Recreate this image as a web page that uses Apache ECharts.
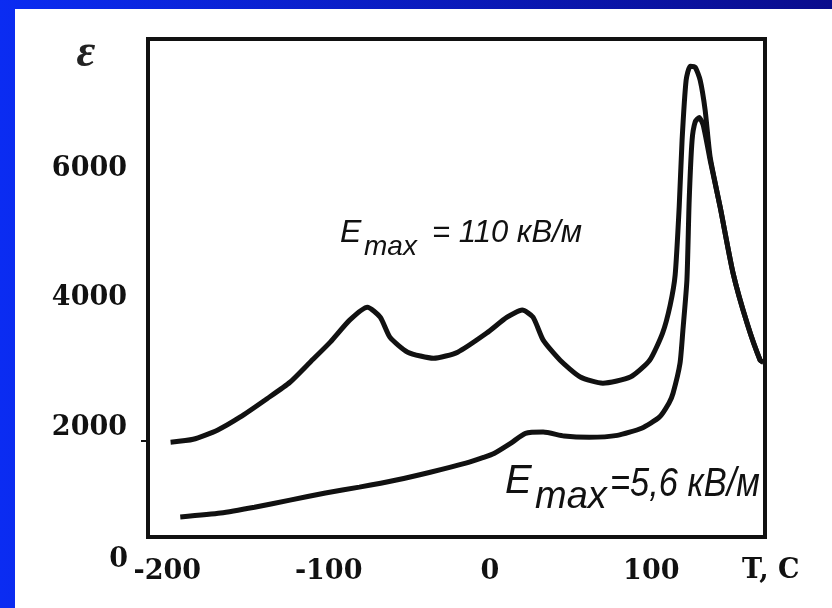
<!DOCTYPE html>
<html>
<head>
<meta charset="utf-8">
<script src="https://cdn.jsdelivr.net/npm/echarts@6/dist/echarts.min.js"></script>
<style>
  html, body { margin: 0; padding: 0; }
  #echar { width: 832px; height: 608px; }
</style>
</head>
<body>
<div id="echar"></div>
<script>
// температура, C и проницаемость для E = 110 кВ/м
var tempHigh = [-198, -184, -169, -155, -138, -124, -111.5, -99, -87, -76, -68, -62, -51, -35, -20, -2, 10.6, 20, 26.7, 33, 43.5, 56, 70, 87, 99, 107, 111.7, 114.8, 117.3, 119.1, 121.6, 124.1, 127.2, 130.3, 133.4, 136.5, 142.7, 150.7, 159.4, 167.5, 169.4];
var epsHigh = [1985, 2030, 2170, 2370, 2660, 2910, 3220, 3530, 3870, 4070, 3915, 3605, 3375, 3280, 3375, 3670, 3915, 4025, 3915, 3560, 3250, 2990, 2895, 2990, 3250, 3670, 4100, 4565, 5615, 6650, 7575, 7790, 7775, 7575, 7110, 6385, 5615, 4595, 3820, 3250, 3220];

// E = 5,6 кВ/м
var tempLow = [-192, -167, -146, -124, -102, -81, -58, -37, -15, -4, 2.5, 13, 22, 33, 46, 61.5, 79, 94, 105, 111, 113.5, 117.8, 119.6, 122.1, 123.5, 125.3, 127.2, 129.7, 132.2, 136.5, 142.7, 150.7, 159.4, 167.5, 169.4];
var epsLow = [830, 890, 980, 1090, 1200, 1290, 1400, 1520, 1660, 1750, 1810, 1970, 2120, 2140, 2080, 2060, 2090, 2200, 2370, 2590, 2740, 3200, 3710, 4490, 5720, 6650, 6930, 7000, 6880, 6340, 5615, 4595, 3820, 3250, 3220];

var xTicks = [-200, -100, 0, 100];
var yTicks = [2000, 4000, 6000];

function pairs(xs, ys) {
    var out = [];
    for (var i = 0; i < xs.length; i++) {
        out.push([xs[i], ys[i]]);
    }
    return out;
}

var myChart = echarts.init(document.getElementById("echar"));

var labelFont = {
    fontFamily: '"DejaVu Serif", serif',
    fontWeight: 'bold',
    fontSize: 27,
    color: '#111',
    formatter: function (v) { return String(v); }
};

var lineStyle = { color: '#111', width: 5 };

var option = {
    animation: false,
    backgroundColor: {
        type: 'linear', x: 0, y: 0, x2: 1, y2: 0,
        colorStops: [{ offset: 0, color: '#0b2cf2' }, { offset: 1, color: '#0a0c8c' }]
    },
    grid: {
        left: 148, right: 67, top: 39, bottom: 71,
        show: true,
        backgroundColor: '#fff',
        borderColor: '#111',
        borderWidth: 4
    },
    xAxis: {
        type: 'value',
        min: -212,
        max: 170.5,
        axisLine: { show: false, onZero: false },
        axisTick: { show: false },
        splitLine: { show: false },
        axisLabel: Object.assign({ customValues: xTicks, margin: 21 }, labelFont)
    },
    yAxis: {
        type: 'value',
        min: 520,
        max: 8211,
        axisLine: { show: false, onZero: false },
        axisTick: { show: true, customValues: [2000], length: 7, lineStyle: { color: '#111', width: 2 } },
        splitLine: { show: false },
        axisLabel: Object.assign({ customValues: yTicks, margin: 21, verticalAlign: 'bottom' }, labelFont)
    },
    graphic: [
        // белое поле под графиком
        { type: 'rect', z: -10, shape: { x: 15, y: 9, width: 817, height: 599 }, style: { fill: '#fff' } },
        { type: 'text', style: { x: 128, y: 560, text: '0', align: 'right', verticalAlign: 'middle', font: 'bold 27px "DejaVu Serif", serif', fill: '#111' } },
        { type: 'text', style: { x: 742, y: 571, text: 'T, C', verticalAlign: 'middle', font: 'bold 27px "DejaVu Serif", serif', fill: '#111' } },
        { type: 'text', style: { x: 86, y: 54, text: 'ε', align: 'center', verticalAlign: 'middle', font: 'italic bold 46px "Liberation Serif", serif', fill: '#222' } },

        { type: 'text', style: { x: 340, y: 233, text: 'E', verticalAlign: 'middle', font: 'italic 32px "Liberation Sans", sans-serif', fill: '#111' } },
        { type: 'text', style: { x: 364, y: 247, text: 'max', verticalAlign: 'middle', font: 'italic 28px "Liberation Sans", sans-serif', fill: '#111' } },
        { type: 'text', style: { x: 432, y: 233, text: '= 110 кВ/м', verticalAlign: 'middle', font: 'italic 31px "Liberation Sans", sans-serif', fill: '#111' } },

        { type: 'text', style: { x: 505, y: 482, text: 'E', verticalAlign: 'middle', font: 'italic 40px "Liberation Sans", sans-serif', fill: '#111' } },
        { type: 'text', style: { x: 535, y: 497, text: 'max', verticalAlign: 'middle', font: 'italic 38px "Liberation Sans", sans-serif', fill: '#111' } },
        { type: 'text', x: 610, y: 485, scaleX: 0.86, style: { x: 0, y: 0, text: '=5,6 кВ/м', verticalAlign: 'middle', font: 'italic 40px "Liberation Sans", sans-serif', fill: '#111' } }
    ],
    series: [{
        type: 'line',
        data: pairs(tempHigh, epsHigh),
        showSymbol: false,
        smooth: 0.2,
        lineStyle: lineStyle
    }, {
        type: 'line',
        data: pairs(tempLow, epsLow),
        showSymbol: false,
        smooth: 0.2,
        lineStyle: lineStyle
    }]
};

myChart.setOption(option);
</script>
</body>
</html>
